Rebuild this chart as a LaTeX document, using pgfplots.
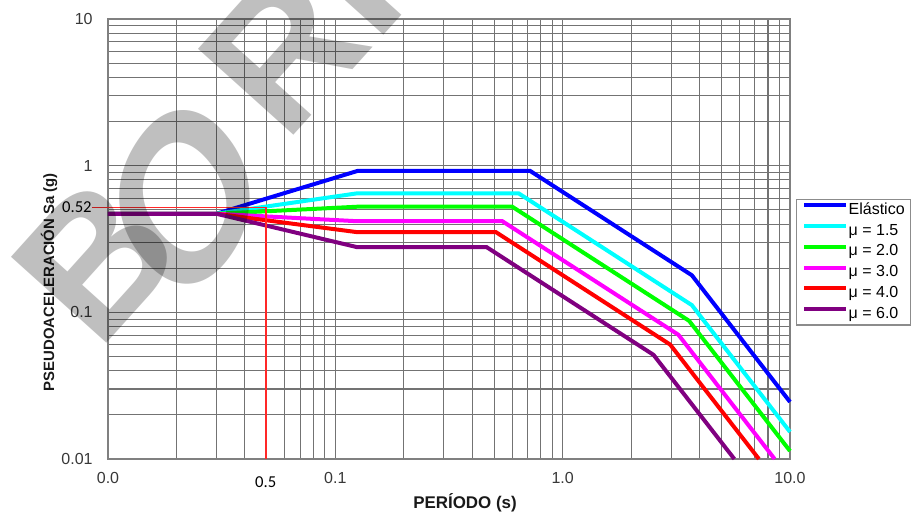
\documentclass[border=0pt]{standalone}
\usepackage{fontspec}
\setmainfont{Liberation Sans}
\newfontfamily\carlito{Carlito}
\usepackage{pgfplots}
\pgfplotsset{compat=1.18}
\definecolor{cpurple}{RGB}{128,0,128}
\definecolor{ccyan}{RGB}{0,255,255}
\definecolor{cgreen}{RGB}{0,255,0}
\definecolor{cmag}{RGB}{255,0,255}
\definecolor{cred}{RGB}{255,0,0}
\definecolor{cblue}{RGB}{0,0,255}
\definecolor{cannot}{RGB}{255,40,40}
\begin{document}
\begin{tikzpicture}
\path[use as bounding box] (0,0) rectangle (683.25pt,385.5pt);
\clip (0,0) rectangle (683.25pt,385.5pt);
\begin{axis}[
  at={(81pt,41.25pt)}, anchor=south west,
  scale only axis, width=511.5pt, height=330pt,
  xmode=log, ymode=log,
  xmin=0.01, xmax=10, ymin=0.01, ymax=10,
  xtick={0.01,0.1,1,10}, xticklabels={0.0,0.1,1.0,10.0},
  ytick={0.01,0.1,1,10}, yticklabels={0.01,0.1,1,10},
  minor xtick={0.02,0.03,0.04,0.05,0.06,0.07,0.08,0.09,0.2,0.3,0.4,0.5,0.6,0.7,0.8,0.9,2,3,4,5,6,7,8,9},
  minor ytick={0.02,0.03,0.04,0.05,0.06,0.07,0.08,0.09,0.2,0.3,0.4,0.5,0.6,0.7,0.8,0.9,2,3,4,5,6,7,8,9},
  grid=both,
  major grid style={black!55, line width=0.8pt},
  minor grid style={black!55, line width=0.8pt},
  major tick length=0pt, minor tick length=0pt,
  axis line style={black!50, line width=1.5pt},
  tick label style={font=\fontsize{12}{14}\selectfont, text=black!78},
  /pgf/number format/assume math mode=true,
  xticklabel style={yshift=-6.5pt},
  yticklabel style={xshift=-8pt},
  xlabel={PERÍODO (s)},
  xlabel style={at={(axis description cs:0.5235,0)}, anchor=center, yshift=-33pt, font=\fontsize{12.7}{15}\selectfont\bfseries, text=black!90},
  ylabel={PSEUDOACELERACIÓN Sa (g)},
  ylabel style={at={(axis description cs:-0.0865,0.402)}, anchor=center, font=\fontsize{11.2}{13}\selectfont\bfseries, text=black!90},
  clip=false,
  legend cell align=left,
  legend image code/.code={\draw[#1] (0pt,3.8pt) -- (31.5pt,3.8pt);},
  legend style={at={(1.0088,0.591)}, anchor=north west, draw=black!45, line width=1pt, fill=white,
    inner xsep=4pt, inner ysep=1.5pt, font=\fontsize{12}{14}\selectfont, row sep=2.6pt,
    nodes={inner sep=0.5pt, text height=9pt, text depth=3pt}},
]
\addplot[cblue, line width=3pt] coordinates {(0.01,0.47) (0.03,0.47) (0.125,0.92) (0.72,0.92) (3.7,0.179) (10,0.0245)};
\addlegendentry{Elástico}
\addplot[ccyan, line width=3pt] coordinates {(0.01,0.47) (0.03,0.47) (0.125,0.648) (0.64,0.648) (3.7,0.112) (10,0.0153)};
\addlegendentry{μ = 1.5}
\addplot[cgreen, line width=3pt] coordinates {(0.01,0.47) (0.03,0.47) (0.125,0.525) (0.60,0.525) (3.6,0.0875) (10,0.01134)};
\addlegendentry{μ = 2.0}
\addplot[cmag, line width=3pt] coordinates {(0.01,0.47) (0.03,0.47) (0.125,0.418) (0.543,0.418) (3.23,0.0703) (8.56,0.01)};
\addlegendentry{μ = 3.0}
\addplot[cred, line width=3pt] coordinates {(0.01,0.47) (0.03,0.47) (0.125,0.352) (0.509,0.352) (2.97,0.0603) (7.3,0.01)};
\addlegendentry{μ = 4.0}
\addplot[cpurple, line width=3pt] coordinates {(0.01,0.47) (0.03,0.47) (0.125,0.278) (0.4635,0.278) (2.51,0.0513) (5.69,0.01)};
\addlegendentry{μ = 6.0}
\addplot[cannot, line width=1.2pt, forget plot] coordinates {(0.0085,0.52) (0.0494,0.52) (0.0494,0.01)};
\node[anchor=east, inner sep=0pt, font=\carlito\fontsize{12.5}{14}\selectfont, text=black] at (axis cs:0.0085,0.52) {0.52};
\node[anchor=center, inner sep=0pt, font=\carlito\fontsize{12.5}{14}\selectfont, text=black, yshift=-17.6pt] at (axis cs:0.0494,0.01) {0.5};
\end{axis}
\begin{scope}[shift={(73.5pt,120.75pt)}, rotate=48, transform shape]
\node[anchor=base west, inner sep=0pt, text=black, opacity=0.25, font=\fontsize{140}{140}\selectfont\bfseries] at (0,0) {B\phantom{O}RRADOR};
\end{scope}
\begin{scope}[shift={(138.75pt,237.75pt)}, xscale=0.96, yscale=1.28, rotate=48, transform shape]
\node[anchor=center, inner sep=0pt, text=black, opacity=0.25, font=\fontsize{140}{140}\selectfont\bfseries] at (0,0) {O};
\end{scope}
\end{tikzpicture}
\end{document}
